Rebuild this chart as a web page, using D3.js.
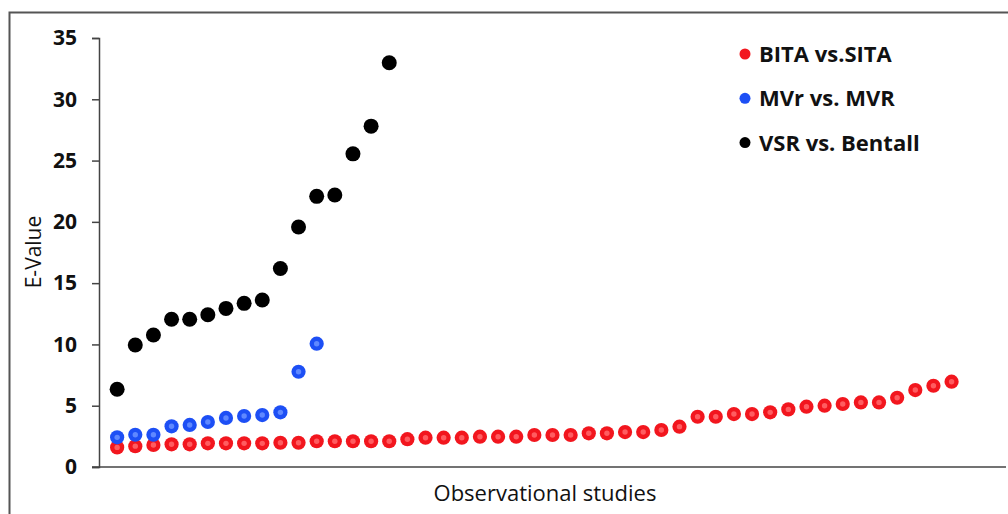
<!DOCTYPE html>
<html>
<head>
<meta charset="utf-8">
<script src="https://cdn.jsdelivr.net/npm/d3@7"></script>
<style>
  body { margin: 0; background: #fff; }
  svg { display: block; font-family: "Open Sans", sans-serif; }
</style>
</head>
<body>
<div id="chart"></div>
<script>
"use strict";

// E-values per study, sorted ascending (x = study rank 1..n)
var bitaVsSita = [1.6, 1.7, 1.8, 1.85, 1.85, 1.93, 1.93, 1.93, 1.93, 1.98, 1.98,
  2.1, 2.1, 2.1, 2.1, 2.1, 2.27, 2.39, 2.39, 2.39, 2.47, 2.47, 2.47, 2.61, 2.61,
  2.61, 2.75, 2.75, 2.85, 2.85, 3.02, 3.29, 4.1, 4.1, 4.32, 4.32, 4.46, 4.7,
  4.92, 5.0, 5.14, 5.27, 5.27, 5.65, 6.28, 6.63, 6.96];
var mvrVsMVR = [2.42, 2.63, 2.63, 3.32, 3.43, 3.67, 4.0, 4.16, 4.24, 4.46, 7.77, 10.06];
var vsrVsBentall = [6.34, 9.95, 10.77, 12.05, 12.05, 12.42, 12.94, 13.35, 13.62,
  16.2, 19.58, 22.08, 22.19, 25.55, 27.81, 32.98];

var seriesNames = ["BITA vs.SITA", "MVr vs. MVR", "VSR vs. Bentall"];
var yTicks = [0, 5, 10, 15, 20, 25, 30, 35];

var width = 1008, height = 514;
var margin = { top: 38, right: 2, bottom: 47, left: 99 };

var svg = d3.select("#chart").append("svg")
  .attr("width", width)
  .attr("height", height);

// outer frame (runs off the right and bottom edges like the source crop)
svg.append("rect")
  .attr("x", 9.5).attr("y", 12.5)
  .attr("width", 1100).attr("height", 600)
  .attr("fill", "none")
  .attr("stroke", "#555")
  .attr("stroke-width", 2);

var x = d3.scaleLinear().domain([0, 50]).range([margin.left, width - margin.right]);
var y = d3.scaleLinear().domain([0, 35]).range([height - margin.bottom, margin.top]);

// y axis
var yAxis = svg.append("g")
  .attr("transform", "translate(" + margin.left + ",0)")
  .call(d3.axisLeft(y).tickValues(yTicks).tickSize(7).tickPadding(15));
yAxis.select(".domain").attr("stroke", "#444").attr("stroke-width", 1.5);
yAxis.selectAll(".tick line").attr("stroke", "#444").attr("stroke-width", 1.5);
yAxis.selectAll("text")
  .attr("fill", "#111")
  .attr("font-size", 21)
  .attr("font-weight", "bold")
  .attr("font-family", "'Open Sans', sans-serif");

// x axis: plain line, no ticks
svg.append("line")
  .attr("x1", margin.left - 7).attr("x2", x(50))
  .attr("y1", y(0)).attr("y2", y(0))
  .attr("stroke", "#444")
  .attr("stroke-width", 1.5);

// axis titles
svg.append("text")
  .attr("x", 545).attr("y", 501)
  .attr("text-anchor", "middle")
  .attr("font-size", 22)
  .attr("fill", "#111")
  .text("Observational studies");

svg.append("text")
  .attr("transform", "translate(41," + 252 + ") rotate(-90)")
  .attr("text-anchor", "middle")
  .attr("font-size", 21)
  .attr("fill", "#111")
  .text("E-Value");

var styles = [
  { fill: "#f2161e", core: "#ff5c60", r: 7.1 },
  { fill: "#1d4ff5", core: "#5f88ff", r: 7.1 },
  { fill: "#000", core: null, r: 7.5 }
];

var drawSeries = function(data, st) {
  var g = svg.append("g");
  g.selectAll("circle.dot")
    .data(data)
    .enter().append("circle")
    .attr("class", "dot")
    .attr("cx", function(d, i) { return x(i + 1); })
    .attr("cy", function(d) { return y(d); })
    .attr("r", st.r)
    .attr("fill", st.fill);
  if (st.core) {
    g.selectAll("circle.core")
      .data(data)
      .enter().append("circle")
      .attr("class", "core")
      .attr("cx", function(d, i) { return x(i + 1); })
      .attr("cy", function(d) { return y(d); })
      .attr("r", 2.7)
      .attr("fill", st.core);
  }
};

drawSeries(bitaVsSita, styles[0]);
drawSeries(mvrVsMVR, styles[1]);
drawSeries(vsrVsBentall, styles[2]);

// legend
var legend = svg.append("g").attr("transform", "translate(745,54)");
var item = legend.selectAll("g")
  .data(seriesNames)
  .enter().append("g")
  .attr("transform", function(d, i) { return "translate(0," + (i * 44.3) + ")"; });
item.append("circle")
  .attr("r", 5.5)
  .attr("fill", function(d, i) { return styles[i].fill; });
item.append("text")
  .attr("x", 14)
  .attr("dy", "0.36em")
  .attr("font-size", 22)
  .attr("font-weight", "bold")
  .attr("fill", "#111")
  .text(function(d) { return d; });
</script>
</body>
</html>
